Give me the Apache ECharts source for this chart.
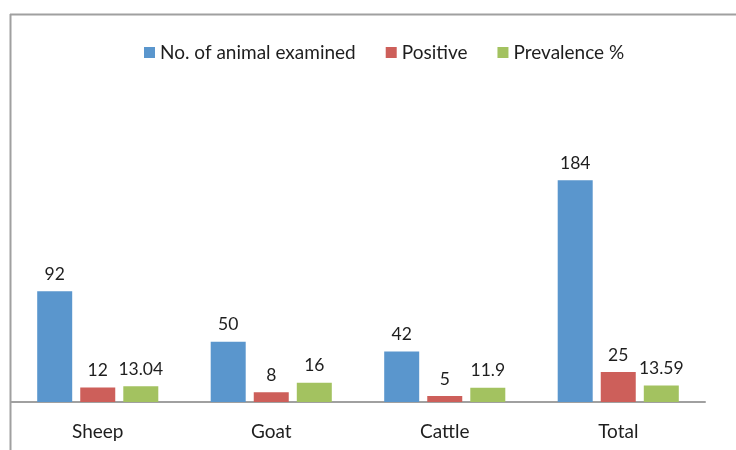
<!DOCTYPE html>
<html>
<head>
<meta charset="utf-8">
<script src="https://cdn.jsdelivr.net/npm/echarts@6/dist/echarts.min.js"></script>
<style>
html,body{margin:0;padding:0;background:#fff;}
#c{width:736px;height:450px;}
</style>
</head>
<body>
<div id="c"></div>
<script>
const categories = ['Sheep', 'Goat', 'Cattle', 'Total'];
const examined = [92, 50, 42, 184];
const positive = [12, 8, 5, 25];
const prevalence = [13.04, 16, 11.9, 13.59];
const seriesNames = ['No. of animal examined', 'Positive', 'Prevalence %'];
const colors = ['#5a96cd', '#cd5f5a', '#a3c260'];

const chart = echarts.init(document.getElementById('c'), null, {renderer: 'canvas'});
const font = 'Lato, "Open Sans", sans-serif';
const labelStyle = {show: true, position: 'top', distance: 8, color: '#1e1e1e', fontSize: 17.5, fontFamily: font};
function mk(name, data, color) {
  return {
    name: name, type: 'bar', data: data, barWidth: 35, barGap: '23%',
    itemStyle: {color: color}, label: labelStyle
  };
}
chart.setOption({
  animation: false,
  color: colors,
  legend: {
    top: 38, left: 139, itemWidth: 11, itemHeight: 11, itemGap: 30,
    icon: 'rect',
    textStyle: {fontSize: 19, color: '#1e1e1e', fontFamily: font, padding: [0, 0, 0, 0]},
    data: seriesNames
  },
  grid: {left: 11, right: 31, top: 161, bottom: 48, containLabel: false},
  xAxis: {
    type: 'category', data: categories,
    axisLine: {lineStyle: {color: '#a0a0a0', width: 2}},
    axisTick: {show: false},
    axisLabel: {color: '#1e1e1e', fontSize: 19, fontFamily: font, margin: 20}
  },
  yAxis: {
    type: 'value', min: 0, max: 200, show: false,
    splitLine: {show: false}
  },
  graphic: [
    {type: 'line', shape: {x1: 10, y1: 14.5, x2: 736, y2: 14.5}, style: {stroke: '#a0a0a0', lineWidth: 2}},
    {type: 'line', shape: {x1: 10.5, y1: 14, x2: 10.5, y2: 450}, style: {stroke: '#a0a0a0', lineWidth: 2}}
  ],
  series: [
    mk(seriesNames[0], examined, colors[0]),
    mk(seriesNames[1], positive, colors[1]),
    mk(seriesNames[2], prevalence, colors[2])
  ]
});
</script>
</body>
</html>
